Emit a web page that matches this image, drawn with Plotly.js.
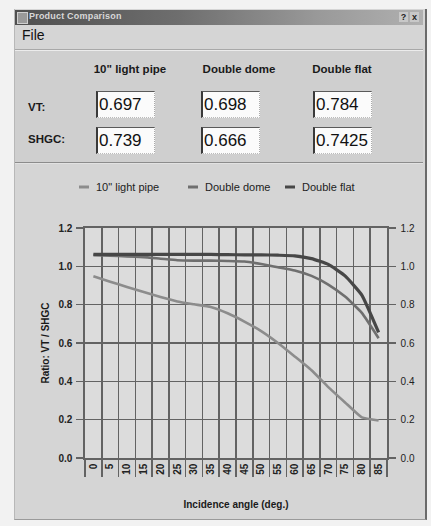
<!DOCTYPE html>
<html>
<head>
<meta charset="utf-8">
<script src="https://cdn.plot.ly/plotly-3.0.1.min.js"></script>
<style>
  html, body { margin:0; padding:0; width:431px; height:526px; overflow:hidden; background:#f2f2f2; font-family:"Liberation Sans", Arial, sans-serif; }
  .abs { position:absolute; }
  #win { left:14px; top:9px; width:410px; height:510px; background:#d5d5d5; border-left:1px solid #b8b8b8; border-right:2px solid #6a6a6a; border-bottom:1px solid #9a9a9a; }
  #titlebar { left:15px; top:10px; width:408px; height:15px; background:linear-gradient(to right,#4f4f4f 0%,#6e6e6e 40%,#9a9a9a 75%,#b0b0b0 100%); }
  #titletext { left:29px; top:11px; font-size:9px; font-weight:bold; color:#d8d8d8; letter-spacing:0.2px; }
  #icon { left:17px; top:12px; width:9px; height:10px; background:#9a9a9a; border:1px solid #cfcfcf; }
  .btn { top:12px; width:9px; height:10px; background:#c8c8c8; font-size:9px; font-weight:bold; color:#222; text-align:center; line-height:10px; }
  #menu { left:22px; top:27px; font-size:14px; color:#111; }
  #sep1 { left:15px; top:49px; width:408px; height:1px; background:#a8a8a8; border-bottom:1px solid #ececec; }
  #panel { left:15px; top:51px; width:408px; height:111px; background:#cfcfcf; }
  #sep2 { left:15px; top:162px; width:408px; height:1px; background:#8c8c8c; border-bottom:1px solid #e2e2e2; }
  .hdr { top:63px; font-size:11.5px; font-weight:bold; color:#1a1a1a; text-align:center; width:100px; }
  .rowlbl { left:28px; font-size:11.5px; font-weight:bold; color:#1a1a1a; }
  .box { width:55px; height:25px; background:#fbfbfb; border-left:2px solid #3a3a3a; border-top:1px solid #5a5a5a; border-right:1px dotted #aaa; border-bottom:1px dotted #bbb; font-size:17px; color:#111; line-height:25px; padding-left:1px; box-sizing:content-box; }
  #chart { position:absolute; left:0; top:0; width:431px; height:526px; }
</style>
</head>
<body>
<div id="win" class="abs"></div>
<div id="titlebar" class="abs"></div>
<div id="icon" class="abs"></div>
<div id="titletext" class="abs">Product Comparison</div>
<div class="abs btn" style="left:399px;">?</div>
<div class="abs btn" style="left:410px;">x</div>
<div id="menu" class="abs">File</div>
<div id="sep1" class="abs"></div>
<div id="panel" class="abs"></div>
<div id="sep2" class="abs"></div>
<div id="table"></div>
<div id="chart"></div>
<script>
// ---- data ----
var products = ['10" light pipe', 'Double dome', 'Double flat'];
var vtValues = ['0.697', '0.698', '0.784'];
var shgcValues = ['0.739', '0.666', '0.7425'];
var angles = ['0','5','10','15','20','25','30','35','40','45','50','55','60','65','70','75','80','85'];
var lightPipe = [0.948,0.92,0.892,0.866,0.84,0.817,0.802,0.788,0.755,0.712,0.662,0.600,0.530,0.458,0.370,0.290,0.212,0.196];
var doubleDome = [1.058,1.056,1.052,1.048,1.04,1.032,1.03,1.03,1.028,1.025,1.012,0.995,0.978,0.950,0.905,0.842,0.757,0.625];
var doubleFlat = [1.062,1.062,1.062,1.062,1.062,1.062,1.062,1.062,1.061,1.060,1.060,1.058,1.055,1.040,1.010,0.950,0.850,0.655];
var yTicks = [0, 0.2, 0.4, 0.6, 0.8, 1.0, 1.2];
var yTickText = ['0.0','0.2','0.4','0.6','0.8','1.0','1.2'];

// ---- dialog table ----
(function(){
  var t = document.getElementById('table');
  var hx = [80, 189, 292];
  var bx = [96, 201, 313];
  var html = '';
  for (var i = 0; i < products.length; i++) {
    html += '<div class="abs hdr" style="left:' + hx[i] + 'px;">' + products[i].replace(/"/g,'&quot;') + '</div>';
    html += '<div class="abs box" style="left:' + bx[i] + 'px;top:91px;">' + vtValues[i] + '</div>';
    html += '<div class="abs box" style="left:' + bx[i] + 'px;top:127px;">' + shgcValues[i] + '</div>';
  }
  html += '<div class="abs rowlbl" style="top:101px;">VT:</div>';
  html += '<div class="abs rowlbl" style="top:133px;">SHGC:</div>';
  t.innerHTML = html;
})();

// ---- chart ----
var colors = ['#8c8c8c', '#6f6f6f', '#474747'];
var series = [lightPipe, doubleDome, doubleFlat];
var traces = [];
for (var i = 0; i < series.length; i++) {
  traces.push({
    type:'scatter', mode:'lines', x: angles, y: series[i], name: products[i],
    line:{color: colors[i], width: i === 2 ? 3.2 : 2.6, shape:'spline', smoothing:0.4},
    showlegend:false, hoverinfo:'skip'
  });
}
// invisible copy on right axis so it is drawn
traces.push({type:'scatter', mode:'lines', x: angles, y: doubleFlat, yaxis:'y2', line:{color:'rgba(0,0,0,0)'}, showlegend:false, hoverinfo:'skip'});

var L = 85, R = 44, T = 228, B = 68, W = 431, H = 526;
var pw = W - L - R, ph = H - T - B;
function px2x(p){ return (p - L) / pw; }
function px2y(p){ return (H - B - p) / ph; }

var gridC = '#636363';

var legendItems = [
  {name: products[0], color: colors[0], x0: 79},
  {name: products[1], color: colors[1], x0: 188},
  {name: products[2], color: colors[2], x0: 285}
];
var shapes = [], annotations = [];
legendItems.forEach(function(it){
  shapes.push({type:'line', xref:'paper', yref:'paper', x0: px2x(it.x0), x1: px2x(it.x0 + 10), y0: px2y(187), y1: px2y(187), line:{color: it.color, width:3}});
  annotations.push({xref:'paper', yref:'paper', x: px2x(it.x0 + 15), y: px2y(187), xanchor:'left', yanchor:'middle', showarrow:false, text: it.name, font:{family:'"Liberation Sans", Arial, sans-serif', size:11, color:'#222'}});
});

var layout = {
  width: W, height: H, autosize:false,
  margin:{l:L, r:R, t:T, b:B, pad:0},
  paper_bgcolor:'rgba(0,0,0,0)', plot_bgcolor:'#dcdcdc',
  font:{family:'"Liberation Sans", Arial, sans-serif', color:'#222'},
  showlegend:false,
  xaxis:{
    type:'category', categoryorder:'array', categoryarray: angles,
    range:[-0.5, angles.length - 0.5],
    tickson:'boundaries', ticks:'outside', ticklen:17, tickwidth:1.6, tickcolor:gridC,
    showgrid:true, gridcolor:gridC, gridwidth:1.6,
    showline:true, linecolor:gridC, linewidth:1.6, mirror:true,
    tickangle:-90, tickfont:{family:'"Liberation Sans", Arial, sans-serif', size:10, color:'#222', weight:'bold'},
    ticklabelstandoff:0,
    title:{text:'Incidence angle (deg.)', font:{size:10, color:'#1a1a1a', weight:'bold'}, standoff:27},
    automargin:false, zeroline:false, fixedrange:true
  },
  yaxis:{
    range:[0,1.2], tickvals:yTicks, ticktext:yTickText,
    ticks:'outside', ticklen:7, tickwidth:1.6, tickcolor:gridC,
    showgrid:true, gridcolor:gridC, gridwidth:1.6, zeroline:false,
    showline:true, linecolor:gridC, linewidth:1.6,
    tickfont:{family:'"Liberation Sans", Arial, sans-serif', size:10, color:'#222', weight:'bold'},
    ticklabelstandoff:2,
    title:{text:'Ratio: VT / SHGC', font:{size:10, color:'#1a1a1a', weight:'bold'}, standoff:7},
    automargin:false, fixedrange:true
  },
  yaxis2:{
    overlaying:'y', side:'right', range:[0,1.2], tickvals:yTicks, ticktext:yTickText,
    ticks:'outside', ticklen:7, tickwidth:1.6, tickcolor:gridC,
    showgrid:false, zeroline:false, showline:true, linecolor:gridC, linewidth:1.6,
    tickfont:{family:'"Liberation Sans", Arial, sans-serif', size:10, color:'#222'},
    ticklabelstandoff:3,
    automargin:false, fixedrange:true
  },
  shapes: shapes,
  annotations: annotations
};

Plotly.newPlot('chart', traces, layout, {staticPlot:true, displayModeBar:false});
</script>
</body>
</html>
